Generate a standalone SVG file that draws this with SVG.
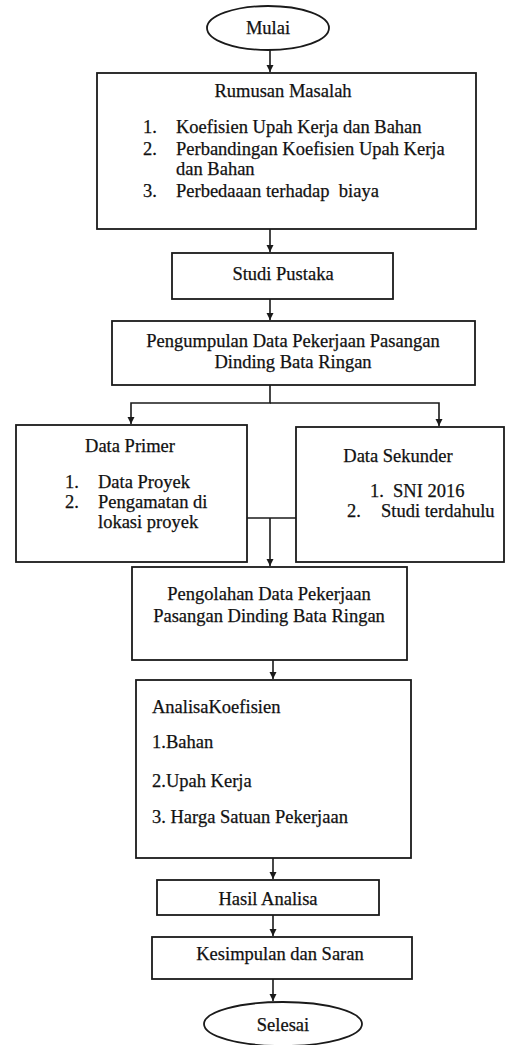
<svg xmlns="http://www.w3.org/2000/svg" width="505" height="1045" viewBox="0 0 505 1045">
<style>
.b{fill:#fff;stroke:#1a1a1a;stroke-width:1.8}
.t{font-family:"Liberation Serif","Times New Roman",serif;font-size:18.5px;fill:#111;stroke:#111;stroke-width:0.25}
.c{text-anchor:middle}
.l{fill:none;stroke:#1a1a1a;stroke-width:1.6}
</style>
<defs>
<marker id="a" markerWidth="8" markerHeight="8" refX="7" refY="4" orient="auto" markerUnits="userSpaceOnUse">
<path d="M0,0.5 L7,4 L0,7.5 Z" fill="#1a1a1a"/>
</marker>
</defs>
<rect width="505" height="1045" fill="#fff"/>
<g id="connectors">
<line class="l" x1="270" y1="50" x2="270" y2="72" marker-end="url(#a)"/>
<line class="l" x1="270" y1="229" x2="270" y2="252" marker-end="url(#a)"/>
<line class="l" x1="270" y1="299" x2="270" y2="320" marker-end="url(#a)"/>
<polyline class="l" points="270,385 270,403 131,403 131,424" marker-end="url(#a)"/>
<polyline class="l" points="270,403 439,403 439,426" marker-end="url(#a)"/>
<line class="l" x1="247" y1="518" x2="296" y2="518"/>
<line class="l" x1="270" y1="518" x2="270" y2="566" marker-end="url(#a)"/>
<line class="l" x1="273" y1="660" x2="273" y2="679" marker-end="url(#a)"/>
<line class="l" x1="273" y1="858" x2="273" y2="879" marker-end="url(#a)"/>
<line class="l" x1="273" y1="915" x2="273" y2="936" marker-end="url(#a)"/>
<line class="l" x1="273" y1="979" x2="273" y2="1001" marker-end="url(#a)"/>
</g>
<g id="mulai">
<ellipse class="b" cx="268" cy="28" rx="61" ry="22"/>
<text class="t c" x="268" y="34">Mulai</text>
</g>
<g id="rumusan">
<rect class="b" x="97" y="73" width="379" height="156"/>
<text class="t c" x="283" y="97">Rumusan Masalah</text>
<text class="t" x="143" y="133">1.</text><text class="t" x="176" y="133">Koefisien Upah Kerja dan Bahan</text>
<text class="t" x="143" y="155">2.</text><text class="t" x="176" y="155">Perbandingan Koefisien Upah Kerja</text>
<text class="t" x="176" y="175">dan Bahan</text>
<text class="t" x="143" y="197">3.</text><text class="t" x="176" y="197" xml:space="preserve">Perbedaaan terhadap  biaya</text>
</g>
<g id="studi">
<rect class="b" x="172" y="253" width="221" height="46"/>
<text class="t c" x="283" y="280">Studi Pustaka</text>
</g>
<g id="pengumpulan">
<rect class="b" x="112" y="321" width="363" height="64"/>
<text class="t c" x="293" y="347">Pengumpulan Data Pekerjaan Pasangan</text>
<text class="t c" x="293" y="368">Dinding Bata Ringan</text>
</g>
<g id="primer">
<rect class="b" x="16" y="425" width="231" height="137"/>
<text class="t c" x="130" y="452">Data Primer</text>
<text class="t" x="65" y="488">1.</text><text class="t" x="98" y="488">Data Proyek</text>
<text class="t" x="65" y="508">2.</text><text class="t" x="98" y="508">Pengamatan di</text>
<text class="t" x="98" y="528">lokasi proyek</text>
</g>
<g id="sekunder">
<rect class="b" x="296" y="427" width="208" height="135"/>
<text class="t c" x="398" y="462">Data Sekunder</text>
<text class="t" x="370" y="497">1.</text><text class="t" x="393" y="497">SNI 2016</text>
<text class="t" x="347" y="517">2.</text><text class="t" x="381" y="517">Studi terdahulu</text>
</g>
<g id="pengolahan">
<rect class="b" x="132" y="567" width="275" height="93"/>
<text class="t c" x="269" y="600">Pengolahan Data Pekerjaan</text>
<text class="t c" x="269" y="622">Pasangan Dinding Bata Ringan</text>
</g>
<g id="analisa">
<rect class="b" x="136" y="680" width="275" height="178"/>
<text class="t" x="152" y="713">AnalisaKoefisien</text>
<text class="t" x="152" y="748">1.Bahan</text>
<text class="t" x="152" y="787">2.Upah Kerja</text>
<text class="t" x="152" y="823">3. Harga Satuan Pekerjaan</text>
</g>
<g id="hasil">
<rect class="b" x="157" y="880" width="222" height="35"/>
<text class="t c" x="268" y="905">Hasil Analisa</text>
</g>
<g id="kesimpulan">
<rect class="b" x="152" y="937" width="260" height="42"/>
<text class="t c" x="280" y="960">Kesimpulan dan Saran</text>
</g>
<g id="selesai">
<ellipse class="b" cx="283" cy="1024" rx="79" ry="22"/>
<text class="t c" x="283" y="1031">Selesai</text>
</g>
</svg>
